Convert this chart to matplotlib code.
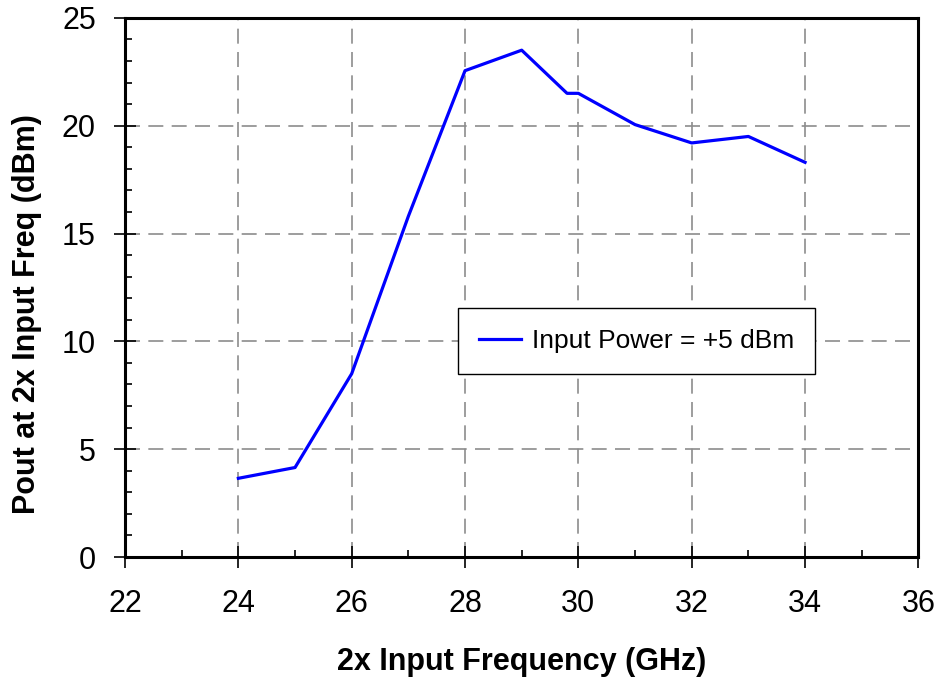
import matplotlib
matplotlib.use('Agg')
import matplotlib.pyplot as plt
from matplotlib.ticker import MultipleLocator

plt.rcParams['font.family'] = ['Liberation Sans', 'DejaVu Sans']

# values
freq_ghz = [24, 25, 26, 27, 28, 29, 29.8, 30, 31, 32, 33, 34]
pout_dbm = [3.65, 4.15, 8.5, 15.8, 22.55, 23.5, 21.5, 21.5, 20.05, 19.2, 19.5, 18.3]
series_label = 'Input Power = +5 dBm'

fig = plt.figure(figsize=(9.4, 6.86), dpi=100)
ax = fig.add_axes([0.133, 0.188, 0.844, 0.786])

ax.plot(freq_ghz, pout_dbm, color='#0000ff', lw=2.3, label=series_label)

ax.set_xlim(22, 36)
ax.set_ylim(0, 25)
ax.xaxis.set_major_locator(MultipleLocator(2))
ax.xaxis.set_minor_locator(MultipleLocator(1))
ax.yaxis.set_major_locator(MultipleLocator(5))
ax.yaxis.set_minor_locator(MultipleLocator(1))

ax.grid(True, which='major', color='#8c8c8c', lw=1.2, ls=(0, (9, 5)))
ax.set_axisbelow(True)

for s in ax.spines.values():
    s.set_linewidth(2.2)

ax.tick_params(which='major', direction='inout', length=16, width=1.2, labelsize=22)
ax.tick_params(axis='x', which='major', pad=15)
ax.tick_params(axis='y', which='major', pad=13)
ax.tick_params(which='minor', direction='in', length=5, width=1.2)

ax.set_xlabel('2x Input Frequency (GHz)', fontsize=22, fontweight='bold', labelpad=20)
ax.set_ylabel('Pout at 2x Input Freq (dBm)', fontsize=22, fontweight='bold')
ax.yaxis.set_label_coords(-0.105, 0.45)

leg = ax.legend(loc='center', bbox_to_anchor=(0.645, 0.401), fontsize=19,
                fancybox=False, shadow=False, framealpha=1, edgecolor='black',
                handlelength=1.6, handletextpad=0.4, borderpad=0.8)
leg.get_frame().set_linewidth(1.0)

fig.savefig('out.png', dpi=100)
